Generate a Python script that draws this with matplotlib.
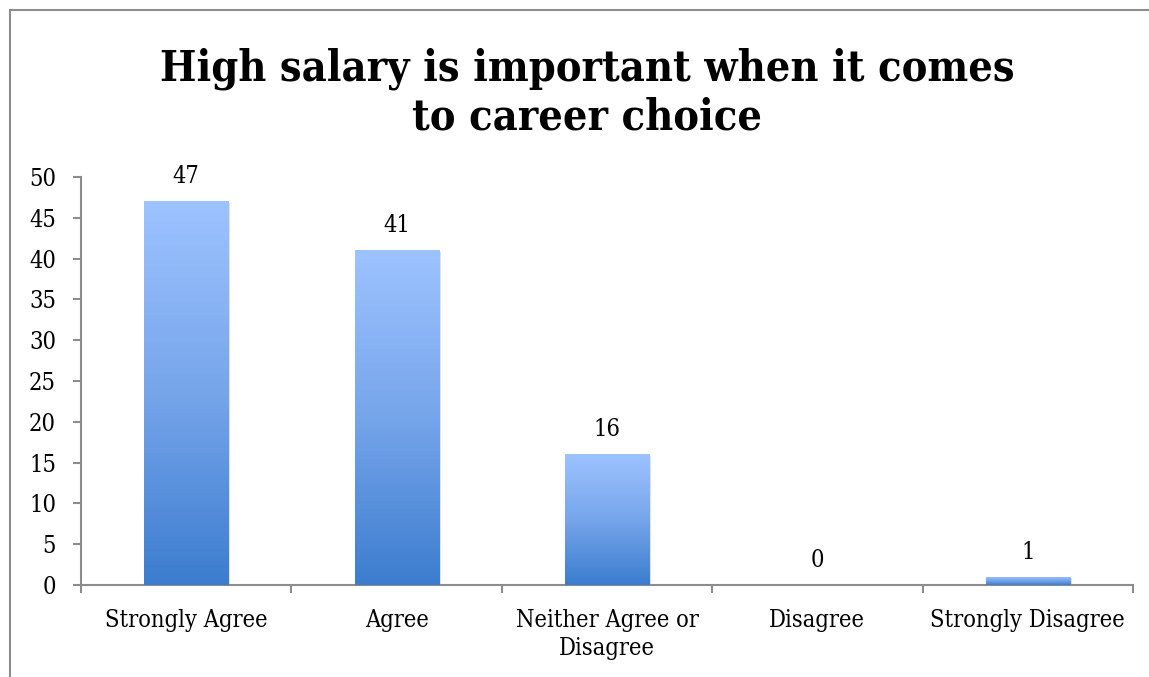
import numpy as np
import matplotlib.pyplot as plt
from matplotlib.colors import LinearSegmentedColormap
from matplotlib.patches import Rectangle

categories = ["Strongly Agree", "Agree", "Neither Agree or\nDisagree", "Disagree", "Strongly Disagree"]
counts = [47, 41, 16, 0, 1]
y_ticks = [0, 5, 10, 15, 20, 25, 30, 35, 40, 45, 50]
title = "High salary is important when it comes\nto career choice"

serif = ["DejaVu Serif"]
grey = "#8c8c8c"
bar_cmap = LinearSegmentedColormap.from_list("bar", ["#3c7dcf", "#76a5ea", "#9dc3ff"])

fig = plt.figure(figsize=(11.49, 6.77), dpi=100)
ax = fig.add_axes([0.0705, 0.1359, 0.9155, 0.6027])

# outer chart frame (left and top edges)
fig.add_artist(Rectangle((10 / 1149, -0.05), 1.2, (677 - 10) / 677 + 0.05,
                         transform=fig.transFigure, fill=False, ec=grey, lw=1.5))

x = np.arange(len(categories))
bars = ax.bar(x, counts, width=0.4, color="none", edgecolor="none", zorder=3)
gradient = np.linspace(0, 1, 256).reshape(-1, 1)
for rect, val in zip(bars, counts):
    x0, w = rect.get_x(), rect.get_width()
    ax.text(x0 + w / 2, val + 1.6, str(val), ha="center", va="bottom",
            fontsize=17, family=serif, stretch="condensed", color="#000000")
    if val <= 0:
        continue
    # soft shadow behind the bar
    ax.add_patch(Rectangle((x0 + 0.01, -0.15), w, val, color="#000000", alpha=0.12, lw=0, zorder=2))
    im = ax.imshow(gradient, cmap=bar_cmap, origin="lower", aspect="auto",
                   extent=(x0, x0 + w, 0, val), zorder=3)
    im.set_clip_path(rect)

ax.set_xlim(-0.5, len(categories) - 0.5)
ax.set_ylim(0, 50)
ax.set_yticks(y_ticks)
ax.set_yticklabels([str(t) for t in y_ticks], family=serif, stretch="condensed", fontsize=17)
ax.set_xticks(x)
ax.set_xticklabels(categories, family=serif, stretch="condensed", fontsize=17, linespacing=1.3)
ax.set_xticks(np.arange(-0.5, len(categories), 1), minor=True)
ax.tick_params(axis="x", which="major", length=0, pad=17)
ax.tick_params(axis="x", which="minor", length=6, color=grey, width=1.5)
ax.tick_params(axis="y", length=6, color=grey, width=1.5, pad=12)

for side in ["top", "right"]:
    ax.spines[side].set_visible(False)
for side in ["left", "bottom"]:
    ax.spines[side].set_color(grey)
    ax.spines[side].set_linewidth(1.5)

fig.text(0.511, 1 - 130 / 677, title, ha="center", va="baseline", multialignment="center",
         fontsize=31, fontweight="bold", family=serif, stretch="condensed", linespacing=1.22)

fig.savefig("out.png", dpi=100)
